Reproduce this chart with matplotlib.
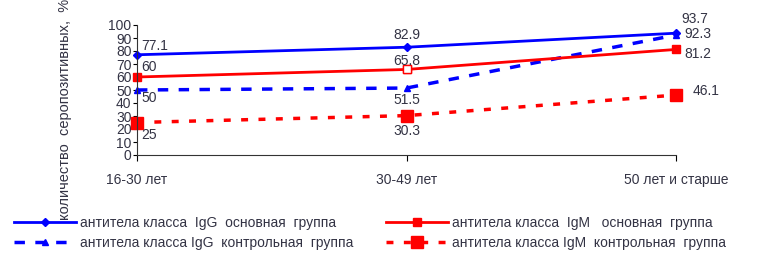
import matplotlib
matplotlib.use('Agg')
import matplotlib.pyplot as plt

plt.rcParams['font.family'] = ['Liberation Sans', 'DejaVu Sans']

# данные
groups = ['16-30 лет', '30-49 лет', '50 лет и старше']
igg_main = [77.1, 82.9, 93.7]
igg_ctrl = [50, 51.5, 92.3]
igm_main = [60, 65.8, 81.2]
igm_ctrl = [25, 30.3, 46.1]
labels = ['антитела класса  IgG  основная  группа',
          'антитела класса IgG  контрольная  группа',
          'антитела класса  IgM   основная  группа',
          'антитела класса IgM  контрольная  группа']
ylabel = 'количество  серопозитивных,  %'

blue = '#0000ff'
red = '#ff0000'
txt = '#333344'

fig = plt.figure(figsize=(7.68, 2.66), dpi=100)
ax = fig.add_axes([137/768, 1 - 155/266, (676 - 137)/768, 130/266])

x = range(len(groups))
l1, = ax.plot(x, igg_main, '-', color=blue, lw=2, marker='D', ms=4, clip_on=False)
l2, = ax.plot(x, igg_ctrl, '--', color=blue, lw=2.5, dashes=(3, 3), marker='^', ms=5, clip_on=False)
l3, = ax.plot(x, igm_main, '-', color=red, lw=2, marker='s', ms=6, clip_on=False)
l4, = ax.plot(x, igm_ctrl, '--', color=red, lw=2.5, dashes=(2, 3), marker='s', ms=8, clip_on=False)
# полый маркер в средней точке
ax.plot([1], [igm_main[1]], 's', ms=6, mfc='white', mec=red, mew=1)

fs = 10
# подписи значений (смещения в пунктах)
offs = {
    0: [(3, 1), (0, 4), (4, 5)],
    1: [(3, -11), (0, -14), (6, -4)],
    2: [(3, 2), (0, 1), (6, -8)],
    3: [(3, -14), (0, -16), (12, -2)],
}
series = [igg_main, igg_ctrl, igm_main, igm_ctrl]
for k, vals in enumerate(series):
    for i, v in enumerate(vals):
        ha = 'center' if i == 1 else 'left'
        ax.annotate(f'{v:g}', (i, v), xytext=offs[k][i], textcoords='offset points',
                    ha=ha, va='bottom', fontsize=fs, color=txt)

ax.set_xlim(0, 2)
ax.set_ylim(0, 100)
ax.set_yticks(range(0, 101, 10))
ax.set_xticks([0, 1, 2])
ax.set_xticklabels(groups, fontsize=fs, color=txt)
ax.tick_params(axis='y', labelsize=fs, labelcolor=txt, length=3, pad=1)
ax.tick_params(axis='x', length=4, pad=9)
for s in ['top', 'right']:
    ax.spines[s].set_visible(False)
ax.spines['left'].set_color('#333333')
ax.spines['bottom'].set_color('#333333')

fig.text(65/768, 1 - 220/266, ylabel, rotation=90, ha='center', va='bottom',
         fontsize=10.5, color=txt)

handles = [l1, l2, l3, l4]
fig.legend(handles, labels, loc='upper left', bbox_to_anchor=(8/768, 1 - 210/266),
           ncol=2, frameon=False, fontsize=fs, handlelength=4.5, handletextpad=0.3,
           columnspacing=2.3, labelspacing=0.45, labelcolor=txt, borderaxespad=0)

fig.savefig('out.png', dpi=100)
